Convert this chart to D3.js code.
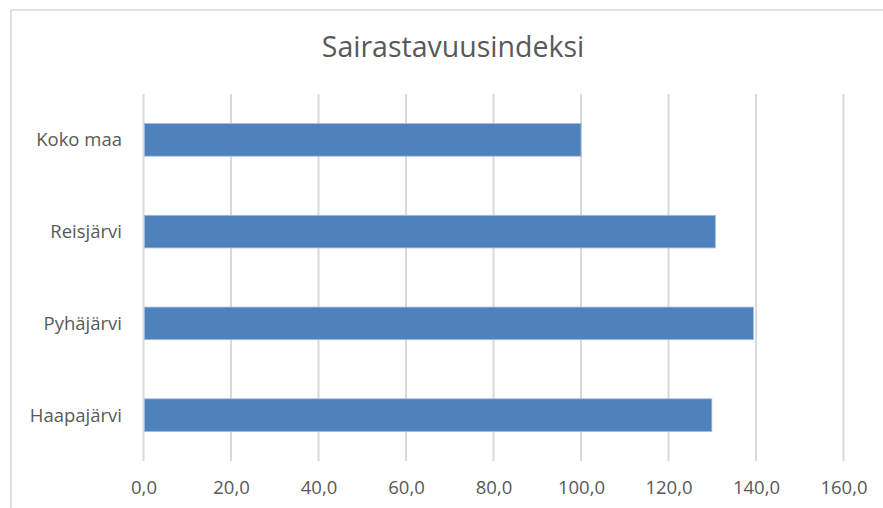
<!DOCTYPE html>
<html>
<head>
<meta charset="utf-8">
<script src="https://cdn.jsdelivr.net/npm/d3@7"></script>
<style>
  body { margin: 0; background: #fff; }
  text { font-family: "Open Sans", Lato, sans-serif; fill: #595959; }
</style>
</head>
<body>
<svg id="chart" width="883" height="508"></svg>
<script>
const categories = ["Koko maa", "Reisjärvi", "Pyhäjärvi", "Haapajärvi"];
const values = [100.0, 130.7, 139.4, 129.9];
const tickValues = [0, 20, 40, 60, 80, 100, 120, 140, 160];
const title = "Sairastavuusindeksi";

const svg = d3.select("#chart");
const plot = { left: 143.5, right: 843.5, top: 94, bottom: 461 };

// chart frame
svg.append("rect")
  .attr("x", 11).attr("y", 10)
  .attr("width", 900).attr("height", 520)
  .attr("fill", "#fff")
  .attr("stroke", "#d9d9d9")
  .attr("stroke-width", 1.5);

const x = d3.scaleLinear().domain([0, 160]).range([plot.left, plot.right]);
const y = d3.scaleBand().domain(categories).range([plot.top, plot.bottom]).paddingInner(0.645).paddingOuter(0.3225);

// gridlines
svg.append("g")
  .selectAll("line")
  .data(tickValues)
  .enter()
  .append("line")
  .attr("x1", d => x(d)).attr("x2", d => x(d))
  .attr("y1", plot.top).attr("y2", plot.bottom)
  .attr("stroke", "#d9d9d9")
  .attr("stroke-width", 2);

// bars
svg.append("g")
  .selectAll("rect")
  .data(categories)
  .enter()
  .append("rect")
  .attr("x", x(0) + 1)
  .attr("y", d => y(d))
  .attr("width", (d, i) => x(values[i]) - x(0) - 1)
  .attr("height", y.bandwidth())
  .attr("fill", "#4f81bd")
  .attr("stroke", "#9fb9dc")
  .attr("stroke-width", 0.8);

// x axis labels
const xAxis = svg.append("g")
  .attr("transform", "translate(0," + 481 + ")")
  .call(d3.axisBottom(x).tickValues(tickValues).tickSize(0).tickPadding(0)
    .tickFormat(d => d3.format(".1f")(d).replace(".", ",")));
xAxis.select(".domain").remove();
xAxis.selectAll("text")
  .attr("font-size", 18.5)
  .attr("fill", "#595959")
  .style("font-family", "'Open Sans', Lato, sans-serif");

// y axis labels
const yAxis = svg.append("g")
  .attr("transform", "translate(" + 122 + ",0)")
  .call(d3.axisLeft(y).tickSize(0).tickPadding(0));
yAxis.select(".domain").remove();
yAxis.selectAll("text")
  .attr("font-size", 18.5)
  .attr("fill", "#595959")
  .attr("dy", "0.35em")
  .style("font-family", "'Open Sans', Lato, sans-serif");

// title
svg.append("text")
  .attr("x", 453)
  .attr("y", 57)
  .attr("text-anchor", "middle")
  .attr("font-size", 28.5)
  .text(title);
</script>
</body>
</html>
